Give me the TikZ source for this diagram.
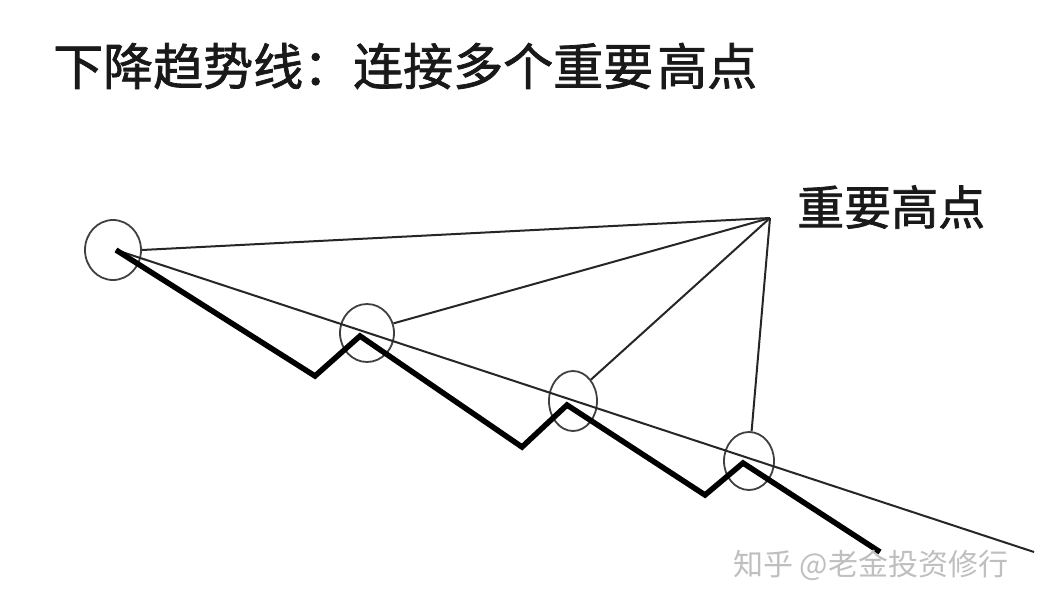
\documentclass[tikz,border=0pt]{standalone}
\usepackage{fontspec}
\newfontfamily\cjk{Noto Sans CJK SC}
\newfontfamily\cjkm[FakeBold=1.5]{Noto Sans CJK SC}
\usetikzlibrary{shapes.geometric}
\begin{document}
\begin{tikzpicture}[x=1pt,y=-1pt,
  thinline/.style={draw=black!85,line width=2pt},
  thickline/.style={draw=black,line width=5.5pt,line join=miter},
  ring/.style={ellipse,draw=black!75,line width=1.8pt,inner sep=0pt},
  txt/.style={font=\cjk,inner sep=0pt,text=black!90}]
\useasboundingbox[fill=white] (0,0) rectangle (1046,612);
% circles
\node[ring,minimum width=56pt,minimum height=60pt] (c1) at (113,250) {};
\node[ring,minimum width=54pt,minimum height=58pt] (c2) at (367,333) {};
\node[ring,minimum width=48pt,minimum height=60pt] (c3) at (573,401) {};
\node[ring,minimum width=50pt,minimum height=58pt] (c4) at (749,461) {};
% points
\coordinate (h1) at (116,250);
\coordinate (l1) at (315,376);
\coordinate (h2) at (360,336);
\coordinate (l2) at (522,447);
\coordinate (h3) at (567,405);
\coordinate (l3) at (705,495);
\coordinate (h4) at (743,463);
\coordinate (e) at (880,552);
\coordinate (p) at (770,218);
\coordinate (te) at (1034,552);
% trend line
\draw[thinline] (h1) -- (te);
% lines from apex
\draw[thinline] (p) -- (c1.east);
\draw[thinline] (p) -- (c2.20);
\draw[thinline] (p) -- (c3.50);
\draw[thinline] (p) -- (c4.85);
% zigzag
\draw[thickline] (h1) -- (l1) -- (h2) -- (l2) -- (h3) -- (l3) -- (h4) -- (e);
% texts
\node[txt,anchor=west,font=\cjkm\fontsize{50pt}{50pt}\selectfont] (title) at (53,66) {下降趋势线：连接多个重要\hspace{4pt}高点};
\node[txt,anchor=west,font=\cjkm\fontsize{47pt}{47pt}\selectfont] (lab) at (797,207) {重要高点};
\node[txt,anchor=west,text=black!25,font=\cjk\fontsize{30pt}{30pt}\selectfont] (wm) at (733,565) {知乎 @老金投资修行};
\end{tikzpicture}
\end{document}
